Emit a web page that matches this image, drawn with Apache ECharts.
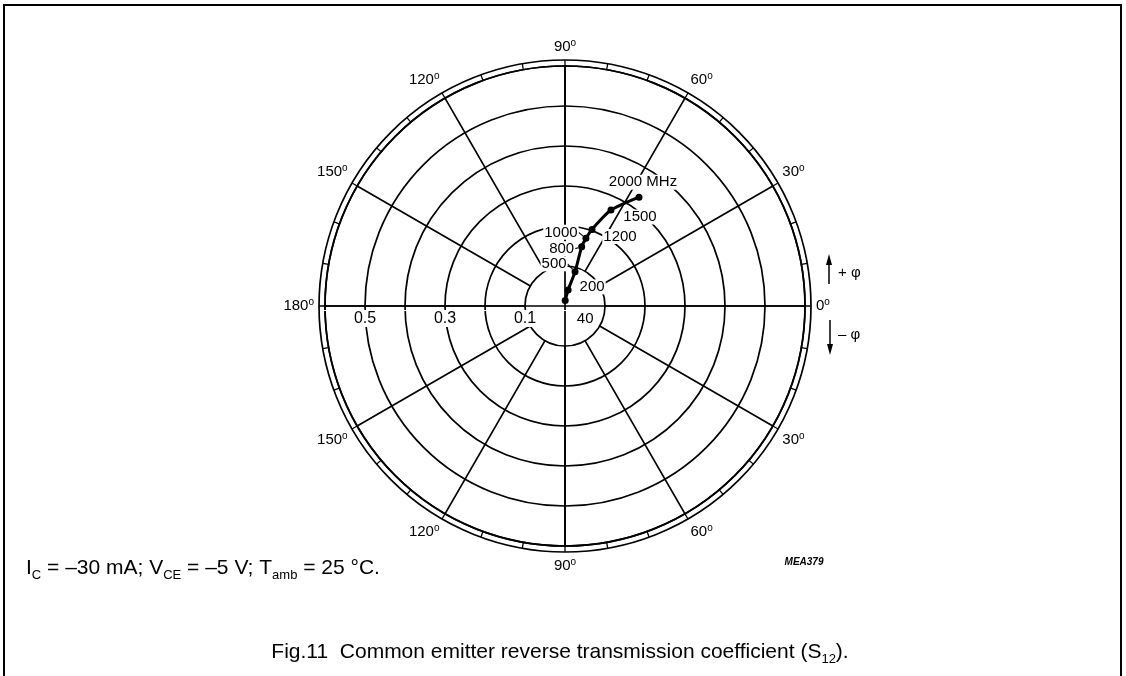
<!DOCTYPE html>
<html><head><meta charset="utf-8">
<script src="https://cdn.jsdelivr.net/npm/echarts@6/dist/echarts.min.js"></script>
<style>html,body{margin:0;padding:0;background:#fff}#c{width:1126px;height:676px}</style>
</head><body><div id="c"></div>
<script>
// ---- data ----
const freqLabels = ['40', '200', '500', '800', '1000', '1200', '1500', '2000 MHz'];
const s12Magnitude = [0.014, 0.041, 0.089, 0.154, 0.177, 0.203, 0.266, 0.329];
const s12PhaseDeg = [88, 79, 73.6, 74.3, 72.8, 70.6, 64.4, 55.8];
const radiusTickLabels = ['0.1', '0.3', '0.5'];
const angleTickStep = 30;
// ---- label layout (not data) ----
const labelOffsets = [[20, 18], [24, -3], [-21, -8], [-20, 2], [-25, -6], [28, 7], [29, 7], [4, -15]];
const leaderShown = [false, false, true, true, true, false, false, false];

const FONT = '"Liberation Sans", Arial, Helvetica, sans-serif';
const CENTER = [565, 306];
const chart = echarts.init(document.getElementById('c'));

const supRich = {
  n: { fontSize: 15, fontFamily: FONT, color: '#000', lineHeight: 17 },
  d: { fontSize: 10, fontFamily: FONT, color: '#000', verticalAlign: 'top', lineHeight: 9 }
};
function angleText(v) {
  const a = v <= 180 ? v : 360 - v;
  return '{n|' + a + '}{d|o}';
}

const seriesData = s12Magnitude.map((m, i) => ({
  value: [m, s12PhaseDeg[i]],
  name: freqLabels[i],
  labelLine: { show: leaderShown[i], lineStyle: { color: '#000', width: 1.2 } }
}));

const blackLine = { color: '#000', width: 1.7 };

const option = {
  animation: false,
  backgroundColor: '#fff',
  polar: [
    { center: CENTER, radius: [0, 240] },
    { center: CENTER, radius: [40, 240] },
    { center: CENTER, radius: [0, 246] },
    { center: CENTER, radius: [0, 240] }
  ],
  angleAxis: [
    { polarIndex: 0, type: 'value', min: 0, max: 360, interval: 90, startAngle: 0, clockwise: false,
      axisLine: { show: true, lineStyle: blackLine },
      axisTick: { show: true, length: 6, lineStyle: { color: '#000', width: 1.3 } },
      minorTick: { show: true, splitNumber: 9, length: 6, lineStyle: { color: '#000', width: 1.3 } },
      axisLabel: { show: false },
      splitLine: { show: true, lineStyle: blackLine } },
    { polarIndex: 1, type: 'value', min: 0, max: 360, interval: angleTickStep, startAngle: 0, clockwise: false,
      axisLine: { show: false }, axisTick: { show: false },
      axisLabel: { show: true, margin: 11, formatter: angleText, rich: supRich },
      splitLine: { show: true, lineStyle: blackLine } },
    { polarIndex: 2, type: 'value', min: 0, max: 360, interval: 90, startAngle: 0, clockwise: false,
      axisLine: { show: true, lineStyle: blackLine },
      axisTick: { show: false }, axisLabel: { show: false }, splitLine: { show: false } },
    { polarIndex: 3, type: 'value', min: 0, max: 360, interval: 90, startAngle: 180, clockwise: false,
      axisLine: { show: false }, axisTick: { show: false }, axisLabel: { show: false }, splitLine: { show: false } }
  ],
  radiusAxis: [
    { polarIndex: 0, type: 'value', min: 0, max: 0.6, interval: 0.1,
      axisLine: { show: false }, axisTick: { show: false }, axisLabel: { show: false },
      splitLine: { show: true, lineStyle: blackLine } },
    { polarIndex: 1, type: 'value', min: 0.1, max: 0.6, interval: 0.1,
      axisLine: { show: false }, axisTick: { show: false }, axisLabel: { show: false }, splitLine: { show: false } },
    { polarIndex: 2, type: 'value', min: 0, max: 0.6,
      axisLine: { show: false }, axisTick: { show: false }, axisLabel: { show: false }, splitLine: { show: false } },
    { polarIndex: 3, type: 'value', min: 0, max: 0.6, interval: 0.1, z: 10,
      axisLine: { show: false }, axisTick: { show: false }, splitLine: { show: false },
      axisLabel: { show: true, margin: 4, fontSize: 16, fontFamily: FONT, color: '#000',
        backgroundColor: '#fff', padding: [1, 1, 0, 1],
        formatter: v => { const s = v.toFixed(1); return radiusTickLabels.indexOf(s) >= 0 ? s : ''; } } }
  ],
  series: [{
    type: 'line', coordinateSystem: 'polar', polarIndex: 0,
    data: seriesData,
    smooth: 0.2,
    symbol: 'circle', symbolSize: 7, showAllSymbol: true,
    lineStyle: { color: '#000', width: 3 },
    itemStyle: { color: '#000' },
    label: { show: true, position: 'inside', formatter: p => p.name,
      fontSize: 15, fontFamily: FONT, color: '#000', backgroundColor: '#fff', padding: [0, 1] },
    labelLayout: p => ({ dx: labelOffsets[p.dataIndex][0], dy: labelOffsets[p.dataIndex][1] }),
    z: 5
  }],
  graphic: [
    { type: 'rect', shape: { x: 4, y: 5, width: 1117, height: 720 }, style: { fill: 'none', stroke: '#000', lineWidth: 2 } },
    { type: 'line', shape: { x1: 829, y1: 284, x2: 829, y2: 263 }, style: { stroke: '#000', lineWidth: 1.5 } },
    { type: 'polygon', shape: { points: [[829, 254], [826, 265], [832, 265]] }, style: { fill: '#000' } },
    { type: 'text', x: 838, y: 273, style: { text: '+ φ', font: '15px ' + FONT, fill: '#000', textVerticalAlign: 'middle' } },
    { type: 'line', shape: { x1: 830, y1: 320, x2: 830, y2: 345 }, style: { stroke: '#000', lineWidth: 1.5 } },
    { type: 'polygon', shape: { points: [[830, 355], [827, 344], [833, 344]] }, style: { fill: '#000' } },
    { type: 'text', x: 838, y: 335, style: { text: '– φ', font: '15px ' + FONT, fill: '#000', textVerticalAlign: 'middle' } },
    { type: 'text', x: 26, y: 568, style: {
        text: '{t|I}{s|C}{t| = –30 mA; V}{s|CE}{t| = –5 V; T}{s|amb}{t| = 25 °C.}',
        textVerticalAlign: 'middle',
        rich: { t: { fontSize: 21, fontFamily: FONT, fill: '#000', lineHeight: 27 },
                s: { fontSize: 13, fontFamily: FONT, fill: '#000', lineHeight: 14, verticalAlign: 'bottom' } } } },
    { type: 'text', x: 804, y: 562, style: { text: 'MEA379', font: 'italic bold 10px ' + FONT, fill: '#000', textAlign: 'center', textVerticalAlign: 'middle' } },
    { type: 'text', x: 560, y: 652, style: {
        text: '{t|Fig.11  Common emitter reverse transmission coefficient (S}{s|12}{t|).}',
        textAlign: 'center', textVerticalAlign: 'middle',
        rich: { t: { fontSize: 21, fontFamily: FONT, fill: '#000', lineHeight: 27 },
                s: { fontSize: 13, fontFamily: FONT, fill: '#000', lineHeight: 14, verticalAlign: 'bottom' } } } }
  ]
};
chart.setOption(option);
</script>
</body></html>
